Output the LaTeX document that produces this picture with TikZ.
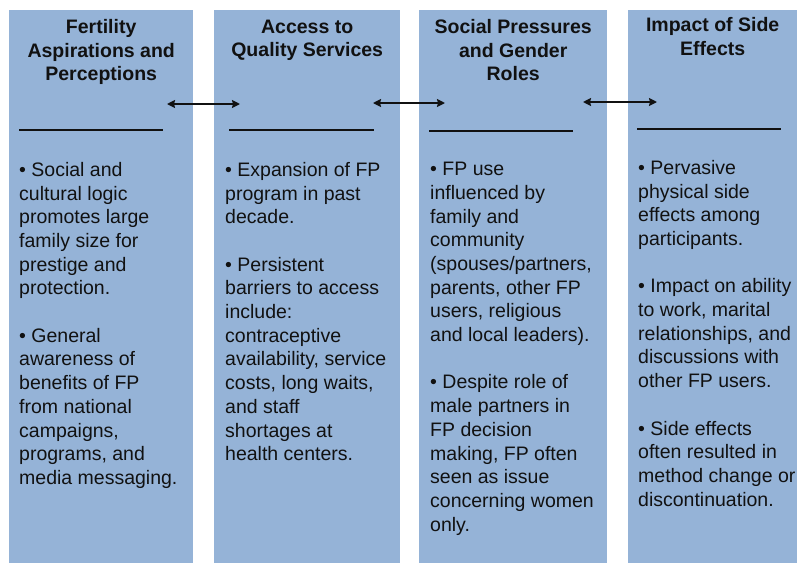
\documentclass[tikz,border=0pt]{standalone}
\usepackage{fontspec}
\setmainfont{Liberation Sans}
\usetikzlibrary{arrows.meta,positioning}
\definecolor{fpblue}{HTML}{95B3D7}
\definecolor{fpink}{HTML}{111111}
\tikzset{
  col/.style={fill=fpblue,draw=none,inner sep=0pt,anchor=north west},
  hdr/.style={font=\fontsize{19.5}{23.3}\selectfont\bfseries,align=center,
              anchor=north,inner sep=0pt,text=fpink},
  body/.style={font=\fontsize{19.5}{23.7}\selectfont,align=left,
               anchor=north west,inner sep=0pt,text=fpink},
  rule/.style={line width=2.5pt,fpink},
  ar/.style={{Stealth[length=8pt,width=8pt,inset=1pt]}-{Stealth[length=8pt,width=8pt,inset=1pt]},
             line width=2.6pt,fpink},
}

\begin{document}
\begin{tikzpicture}[x=1pt,y=-1pt]
  \useasboundingbox (0,0) rectangle (797,563);
  % columns
  \node[col,minimum width=184pt,minimum height=553pt] (c1) at (9,10) {};
  \node[col,minimum width=186pt,minimum height=553pt] (c2) at (214,10) {};
  \node[col,minimum width=188pt,minimum height=553pt] (c3) at (419,10) {};
  \node[col,minimum width=169pt,minimum height=553pt] (c4) at (628,10) {};
  % headings
  \node[hdr] (h1) at ([yshift=-9.5pt]c1.north) {Fertility\\Aspirations and\\Perceptions};
  \node[hdr] (h2) at ([yshift=-9.5pt]c2.north) {Access to\\Quality Services};
  \node[hdr] (h3) at ([yshift=-9.5pt]c3.north) {Social Pressures\\and Gender\\Roles};
  \node[hdr] (h4) at ([yshift=-7.5pt]c4.north) {Impact of Side\\Effects};
  % links
  \coordinate (l1) at (167,104);
  \coordinate (r1) at (240,104);
  \coordinate (l2) at (373,103);
  \coordinate (r2) at (445,103);
  \coordinate (l3) at (583,102);
  \coordinate (r3) at (657,102);
  \draw[ar] (l1) -- (r1);
  \draw[ar] (l2) -- (r2);
  \draw[ar] (l3) -- (r3);
  % rules
  \coordinate (u1) at (19,130);  \coordinate (v1) at (163,130);
  \coordinate (u2) at (229,130); \coordinate (v2) at (374,130);
  \coordinate (u3) at (429,131); \coordinate (v3) at (573,131);
  \coordinate (u4) at (637,129); \coordinate (v4) at (781,129);
  \draw[rule] (u1) -- (v1);
  \draw[rule] (u2) -- (v2);
  \draw[rule] (u3) -- (v3);
  \draw[rule] (u4) -- (v4);
  % bullets
  \node[body] (b1) at (19,162) {• Social and\\cultural logic\\promotes large\\family size for\\prestige and\\protection.\\[23.7pt]
    • General\\awareness of\\benefits of FP\\from national\\campaigns,\\programs, and\\media messaging.};
  \node[body] (b2) at (225,162) {• Expansion of FP\\program in past\\decade.\\[23.7pt]
    • Persistent\\barriers to access\\include:\\contraceptive\\availability, service\\costs, long waits,\\and staff\\shortages at\\health centers.};
  \node[body] (b3) at (430,162) {• FP use\\influenced by\\family and\\community\\(spouses/partners,\\parents, other FP\\users, religious\\and local leaders).\\[23.7pt]
    • Despite role of\\male partners in\\FP decision\\making, FP often\\seen as issue\\concerning women\\only.};
  \node[body] (b4) at (638,160) {• Pervasive\\physical side\\effects among\\participants.\\[23.7pt]
    • Impact on ability\\to work, marital\\relationships, and\\discussions with\\other FP users.\\[23.7pt]
    • Side effects\\often resulted in\\method change or\\discontinuation.};
\end{tikzpicture}
\end{document}
